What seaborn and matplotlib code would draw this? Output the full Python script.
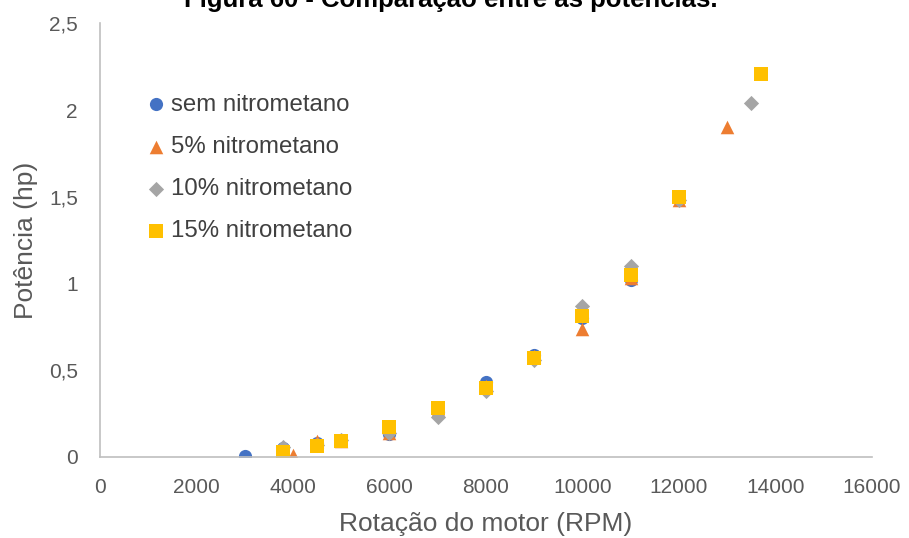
import pandas as pd
import seaborn as sns
import matplotlib.pyplot as plt

# dados
sem_rpm = [3000, 3800, 4500, 5000, 6000, 7000, 8000, 9000, 10000, 11000]
sem_hp = [0.005, 0.05, 0.08, 0.10, 0.13, 0.26, 0.43, 0.59, 0.80, 1.02]

n5_rpm = [4000, 4500, 5000, 6000, 7000, 8000, 9000, 10000, 11000, 12000, 13000]
n5_hp = [0.01, 0.09, 0.09, 0.14, 0.27, 0.41, 0.58, 0.74, 1.03, 1.48, 1.90]

n10_rpm = [3800, 4500, 5000, 6000, 7000, 8000, 9000, 10000, 11000, 12000, 13500]
n10_hp = [0.06, 0.07, 0.10, 0.14, 0.23, 0.38, 0.56, 0.87, 1.10, 1.48, 2.04]

n15_rpm = [3800, 4500, 5000, 6000, 7000, 8000, 9000, 10000, 11000, 12000, 13700]
n15_hp = [0.03, 0.065, 0.09, 0.17, 0.28, 0.40, 0.57, 0.81, 1.05, 1.50, 2.21]

series = ['sem nitrometano', '5% nitrometano', '10% nitrometano', '15% nitrometano']
cores = ['#4472C4', '#ED7D31', '#A5A5A5', '#FFC000']
marcadores = ['o', '^', 'D', 's']
tamanhos = [90, 95, 60, 95]

#Montando o dataframe
partes = []
for nome, rpm, hp in zip(series, [sem_rpm, n5_rpm, n10_rpm, n15_rpm], [sem_hp, n5_hp, n10_hp, n15_hp]):
    partes.append(pd.DataFrame({'rpm': rpm, 'hp': hp, 'serie': nome}))
df = pd.concat(partes, ignore_index=True)

sns.set_style('white')
plt.rcParams['font.family'] = ['Liberation Sans', 'DejaVu Sans']

fig = plt.figure(figsize=(9.09, 5.38), dpi=100)
ax = fig.add_axes([0.110, 0.1506, 0.849, 0.806])

# uma serie por vez (cada marcador com seu tamanho)
for nome, cor, mk, tam in zip(series, cores, marcadores, tamanhos):
    sub = df[df['serie'] == nome]
    sns.scatterplot(data=sub, x='rpm', y='hp', color=cor, marker=mk, s=tam,
                    linewidth=0, label=nome, ax=ax)

ax.set_xlim(0, 16000)
ax.set_ylim(0, 2.5)
ax.set_xticks(range(0, 16001, 2000))
ax.set_yticks([0, 0.5, 1, 1.5, 2, 2.5])
ax.set_yticklabels(['0', '0,5', '1', '1,5', '2', '2,5'])
ax.tick_params(axis='x', length=0, labelsize=15, labelcolor='#595959', pad=15)
ax.tick_params(axis='y', length=0, labelsize=15, labelcolor='#595959', pad=16)
ax.set_xlabel('Rotação do motor (RPM)', fontsize=19, color='#595959', labelpad=11)
ax.set_ylabel('Potência (hp)', fontsize=19, color='#595959', labelpad=8)

for lado in ['top', 'right']:
    ax.spines[lado].set_visible(False)
for lado in ['left', 'bottom']:
    ax.spines[lado].set_color('#BFBFBF')
    ax.spines[lado].set_linewidth(1.2)

handles, labels = ax.get_legend_handles_labels()
leg = ax.legend(handles, labels, loc='upper left', bbox_to_anchor=(0.045, 0.86),
                frameon=False, fontsize=17.3, handletextpad=0.1, labelspacing=0.84,
                handlelength=1.0, borderaxespad=0)
for t in leg.get_texts():
    t.set_color('#404040')

fig.text(0.496, 1 - 7 / 538, 'Figura 60 - Comparação entre as potências.',
         ha='center', va='baseline', fontsize=18.5, fontweight='bold', color='black')

fig.savefig('out.png', dpi=100)
